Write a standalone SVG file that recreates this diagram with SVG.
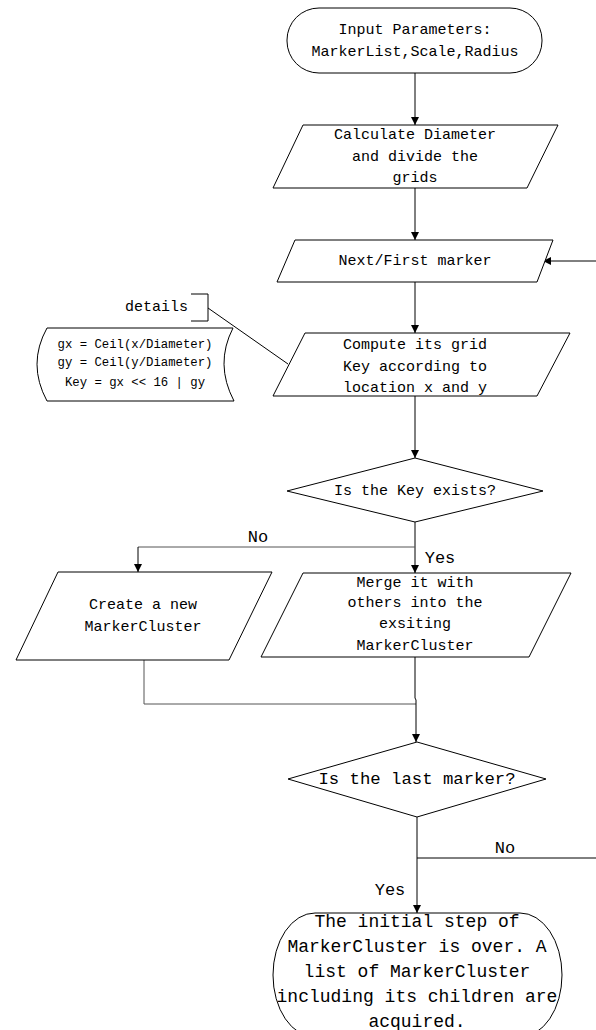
<svg xmlns="http://www.w3.org/2000/svg" width="596" height="1030" viewBox="0 0 596 1030">
<style>
.s{fill:#fff;stroke:#000;stroke-width:1}
.t{font-family:"Liberation Mono",monospace;font-size:15px;fill:#000;text-anchor:middle;dominant-baseline:central}
.c{stroke:#000;stroke-width:1;fill:none}
.g{stroke:#555;stroke-width:1;fill:none}
.a{stroke:#000;stroke-width:1;fill:none;marker-end:url(#ar)}
</style>
<defs>
<marker id="ar" viewBox="0 0 8 10" refX="8" refY="5" markerWidth="8" markerHeight="10" markerUnits="userSpaceOnUse" orient="auto">
<path d="M0,1 L8,5 L0,9 Z" fill="#000"/>
</marker>
</defs>
<rect width="596" height="1030" fill="#fff"/>
<g id="connectors">
<line class="a" x1="415" y1="73" x2="415" y2="125"/>
<line class="a" x1="415" y1="188" x2="415" y2="240"/>
<line class="a" x1="596" y1="261" x2="543" y2="261"/>
<line class="a" x1="415" y1="282" x2="415" y2="333"/>
<line class="a" x1="415" y1="396" x2="415" y2="458"/>
<line class="a" x1="415" y1="522" x2="415" y2="573"/>
<polyline class="g" points="415,547 138,547"/>
<line class="a" x1="138" y1="547" x2="138" y2="572"/>
<polyline class="g" points="144,660 144,704 416,704"/>
<polyline class="c" points="415,657 415,698 416,700"/>
<line class="a" x1="416" y1="700" x2="416" y2="742"/>
<line class="a" x1="417" y1="817" x2="417" y2="913"/>
<line class="c" x1="417" y1="858" x2="596" y2="858"/>
<polyline class="c" points="191,294 208,294 208,321 191,321"/>
<line class="c" x1="208" y1="308" x2="288" y2="364"/>
<text class="t" x="258" y="537" style="font-size:17px">No</text>
<text class="t" x="440" y="558" style="font-size:17px">Yes</text>
<text class="t" x="505" y="848" style="font-size:17px">No</text>
<text class="t" x="390" y="890" style="font-size:17px">Yes</text>
</g>
<g id="start">
<rect class="s" x="287" y="8" width="255" height="65" rx="32" ry="32"/>
<text class="t" x="415" y="30">Input Parameters:</text>
<text class="t" x="415" y="52">MarkerList,Scale,Radius</text>
</g>
<g id="calc">
<polygon class="s" points="303,125 558,125 527,188 273,188"/>
<text class="t" x="415" y="135">Calculate Diameter</text>
<text class="t" x="415" y="157">and divide the</text>
<text class="t" x="415" y="178">grids</text>
</g>
<g id="next">
<polygon class="s" points="295,240 553,240 537,282 277,282"/>
<text class="t" x="415" y="261">Next/First marker</text>
</g>
<g id="compute">
<polygon class="s" points="305,333 570,333 537,396 273,396"/>
<text class="t" x="415" y="345">Compute its grid</text>
<text class="t" x="415" y="367">Key according to</text>
<text class="t" x="415" y="388">location x and y</text>
</g>
<g id="details">
<text class="t" x="188" y="307" style="text-anchor:end">details</text>
<path class="s" d="M47,328 L233,328 Q214.5,364 234,401 L47,401 Q27,364 47,328 Z"/>
<text class="t" x="135" y="345" style="font-size:12.3px">gx = Ceil(x/Diameter)</text>
<text class="t" x="135" y="363" style="font-size:12.3px">gy = Ceil(y/Diameter)</text>
<text class="t" x="135" y="383" style="font-size:12.3px">Key = gx &lt;&lt; 16 | gy</text>
</g>
<g id="keyexists">
<polygon class="s" points="415,458 543,491 415,522 287,491"/>
<text class="t" x="415" y="491">Is the Key exists?</text>
</g>
<g id="create">
<polygon class="s" points="58,572 272,572 229,660 16,660"/>
<text class="t" x="143" y="605">Create a new</text>
<text class="t" x="143" y="627">MarkerCluster</text>
</g>
<g id="merge">
<polygon class="s" points="303,573 571,573 529,657 261,657"/>
<text class="t" x="415" y="583">Merge it with</text>
<text class="t" x="415" y="603">others into the</text>
<text class="t" x="415" y="624">exsiting</text>
<text class="t" x="415" y="646">MarkerCluster</text>
</g>
<g id="lastmarker">
<polygon class="s" points="417,742 546,779 417,817 288,779"/>
<text class="t" x="417" y="779" style="font-size:17.3px">Is the last marker?</text>
</g>
<g id="end">
<rect class="s" x="273" y="913" width="289" height="124" rx="42" ry="62"/>
<text class="t" x="417" y="922" style="font-size:18px">The initial step of</text>
<text class="t" x="417" y="947" style="font-size:18px">MarkerCluster is over. A</text>
<text class="t" x="417" y="972" style="font-size:18px">list of MarkerCluster</text>
<text class="t" x="417" y="997" style="font-size:18px">including its children are</text>
<text class="t" x="417" y="1022" style="font-size:18px">acquired.</text>
</g>
</svg>
